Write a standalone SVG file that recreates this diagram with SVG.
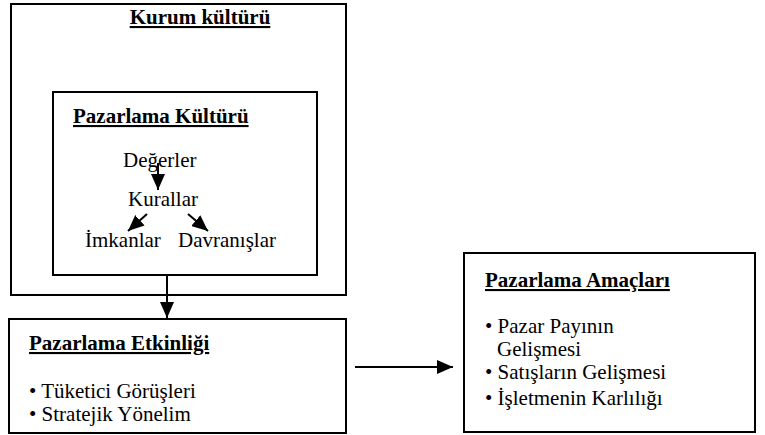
<svg xmlns="http://www.w3.org/2000/svg" width="765" height="435" viewBox="0 0 765 435">
<style>
.box{fill:#fff;stroke:#000;stroke-width:2}
.c{stroke:#000;stroke-width:2;fill:none}
</style>
<defs>
<marker id="ah" viewBox="0 0 16 14" refX="16" refY="7" markerWidth="16" markerHeight="14" orient="auto" markerUnits="userSpaceOnUse">
<path d="M0,0 L16,7 L0,14 z" fill="#000"/>
</marker>
</defs>
<g id="kurum">
<rect class="box" x="11" y="4" width="335" height="291"/>
<text style="font-family:'Liberation Serif','Times New Roman',Times,serif;font-size:21px;font-weight:bold;text-decoration:underline" x="200" y="24" text-anchor="middle">Kurum kültürü</text>
</g>
<g id="pazarlama-kulturu">
<rect class="box" x="53" y="92" width="264" height="183"/>
<text style="font-family:'Liberation Serif','Times New Roman',Times,serif;font-size:21px;font-weight:bold;text-decoration:underline" x="73" y="123">Pazarlama Kültürü</text>
<text style="font-family:'Liberation Serif','Times New Roman',Times,serif;font-size:21px" x="123" y="167">Değerler</text>
<text style="font-family:'Liberation Serif','Times New Roman',Times,serif;font-size:21px" x="128" y="206">Kurallar</text>
<text style="font-family:'Liberation Serif','Times New Roman',Times,serif;font-size:21px" x="85" y="247">İmkanlar</text>
<text style="font-family:'Liberation Serif','Times New Roman',Times,serif;font-size:21px" x="178" y="247">Davranışlar</text>
</g>
<g id="etkinlik">
<rect class="box" x="9" y="319" width="337" height="114"/>
<text style="font-family:'Liberation Serif','Times New Roman',Times,serif;font-size:21px;font-weight:bold;text-decoration:underline" x="29" y="350">Pazarlama Etkinliği</text>
<text style="font-family:'Liberation Serif','Times New Roman',Times,serif;font-size:21px" x="29" y="398">• Tüketici Görüşleri</text>
<text style="font-family:'Liberation Serif','Times New Roman',Times,serif;font-size:21px" x="29" y="421">• Stratejik Yönelim</text>
</g>
<g id="amaclar">
<rect class="box" x="464" y="253" width="291" height="179"/>
<text style="font-family:'Liberation Serif','Times New Roman',Times,serif;font-size:21px;font-weight:bold;text-decoration:underline" x="485" y="287">Pazarlama Amaçları</text>
<text style="font-family:'Liberation Serif','Times New Roman',Times,serif;font-size:21px" x="485" y="333">• Pazar Payının</text>
<text style="font-family:'Liberation Serif','Times New Roman',Times,serif;font-size:21px" x="497" y="356">Gelişmesi</text>
<text style="font-family:'Liberation Serif','Times New Roman',Times,serif;font-size:21px" x="485" y="379">• Satışların Gelişmesi</text>
<text style="font-family:'Liberation Serif','Times New Roman',Times,serif;font-size:21px" x="485" y="405">• İşletmenin Karlılığı</text>
</g>
<g id="connectors">
<line class="c" x1="158" y1="163" x2="158" y2="190" marker-end="url(#ah)"/>
<line class="c" x1="147" y1="214" x2="128" y2="231" marker-end="url(#ah)"/>
<line class="c" x1="188" y1="214" x2="208" y2="231" marker-end="url(#ah)"/>
<line class="c" x1="167" y1="275" x2="167" y2="318" marker-end="url(#ah)"/>
<line class="c" x1="355" y1="367" x2="453" y2="367" marker-end="url(#ah)"/>
</g>
</svg>
